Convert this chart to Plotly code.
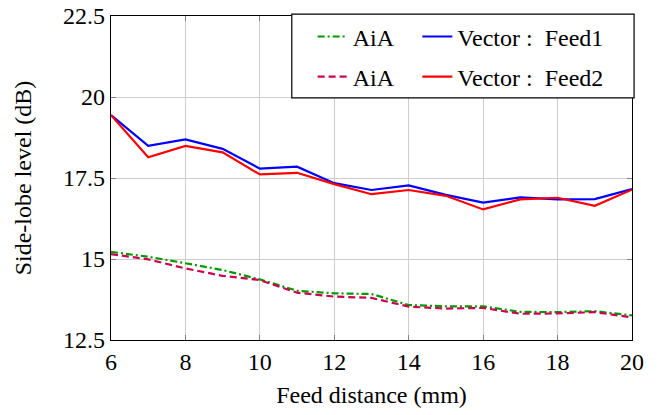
import plotly.graph_objects as go

# Feed distance (mm)
feed_distance = [6, 7, 8, 9, 10, 11, 12, 13, 14, 15, 16, 17, 18, 19, 20]

# Side-lobe level (dB)
aia_feed1 = [15.22, 15.07, 14.87, 14.66, 14.37, 14.02, 13.94, 13.92, 13.58, 13.54, 13.54, 13.37, 13.36, 13.39, 13.26]
aia_feed2 = [15.15, 14.99, 14.71, 14.48, 14.35, 13.96, 13.84, 13.80, 13.53, 13.47, 13.49, 13.31, 13.32, 13.36, 13.20]
vector_feed1 = [19.44, 18.49, 18.69, 18.40, 17.79, 17.85, 17.34, 17.13, 17.27, 16.98, 16.74, 16.90, 16.84, 16.85, 17.16]
vector_feed2 = [19.44, 18.14, 18.49, 18.29, 17.61, 17.66, 17.31, 17.00, 17.13, 16.95, 16.53, 16.84, 16.89, 16.64, 17.14]

x_ticks = [6, 8, 10, 12, 14, 16, 18, 20]
y_ticks = [12.5, 15, 17.5, 20, 22.5]
y_tick_text = ["12.5", "15", "17.5", "20", "22.5"]

FONT = "Liberation Serif"
SIZE = 24
NB = "\u00a0"

fig = go.Figure()
fig.add_trace(go.Scatter(x=feed_distance, y=aia_feed1, mode="lines", name="AiA",
                         line=dict(color="rgb(0,153,0)", width=2.2, dash="7px,3px,2px,3px"),
                         legend="legend", legendgroup="a1"))
fig.add_trace(go.Scatter(x=feed_distance, y=aia_feed2, mode="lines", name="AiA",
                         line=dict(color="rgb(204,0,80)", width=2.2, dash="7px,4px"),
                         legend="legend", legendgroup="a2"))
fig.add_trace(go.Scatter(x=feed_distance, y=vector_feed1, mode="lines",
                         name=f"Vector{NB}:{NB}{NB}Feed1",
                         line=dict(color="rgb(0,0,255)", width=2.2),
                         legend="legend2", legendgroup="v1"))
fig.add_trace(go.Scatter(x=feed_distance, y=vector_feed2, mode="lines",
                         name=f"Vector{NB}:{NB}{NB}Feed2",
                         line=dict(color="rgb(255,0,0)", width=2.2),
                         legend="legend2", legendgroup="v2"))

axis_common = dict(
    showline=True, linecolor="black", linewidth=1.2, mirror="ticks",
    ticks="inside", ticklen=5, tickcolor="rgb(130,130,130)", tickwidth=1,
    showgrid=True, gridcolor="rgb(205,205,205)", gridwidth=1,
    zeroline=False, tickfont=dict(family=FONT, size=SIZE, color="black"),
)

fig.update_xaxes(range=[6, 20], tickvals=x_ticks,
                 title=dict(text="Feed distance (mm)", font=dict(family=FONT, size=SIZE, color="black"), standoff=12),
                 **axis_common)
fig.update_yaxes(range=[12.5, 22.5], tickvals=y_ticks, ticktext=y_tick_text,
                 title=dict(text="Side-lobe level (dB)", font=dict(family=FONT, size=SIZE, color="black"), standoff=24),
                 **axis_common)

# Legend frame spanning both legend columns
fig.add_shape(type="rect", xref="paper", yref="paper",
              x0=0.347, x1=1.004, y0=0.747, y1=1.006,
              fillcolor="white", line=dict(color="black", width=1.2), layer="above")

legend_font = dict(family=FONT, size=SIZE, color="black")
fig.update_layout(
    template="none",
    width=667, height=415,
    margin=dict(l=111, r=35, t=16, b=75),
    plot_bgcolor="white", paper_bgcolor="white",
    font=dict(family=FONT, color="black"),
    showlegend=True,
    legend=dict(x=0.387, y=1.005, xanchor="left", yanchor="top",
                bgcolor="rgba(0,0,0,0)", borderwidth=0, font=legend_font,
                itemwidth=30, tracegroupgap=6),
    legend2=dict(x=0.588, y=1.005, xanchor="left", yanchor="top",
                 bgcolor="rgba(0,0,0,0)", borderwidth=0, font=legend_font,
                 itemwidth=30, tracegroupgap=6),
)

fig.write_html("out.html")
